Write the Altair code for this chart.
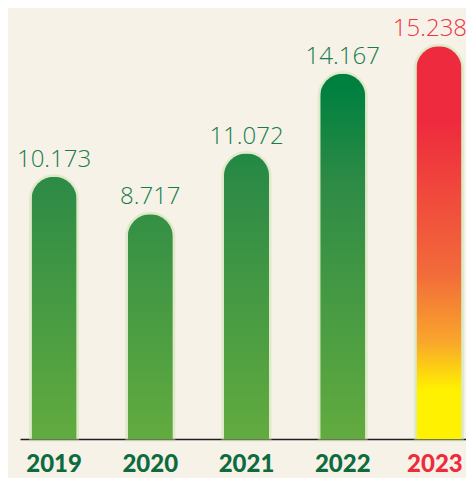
import altair as alt
import pandas as pd

years = ["2019", "2020", "2021", "2022", "2023"]
values = [10.173, 8.717, 11.072, 14.167, 15.238]
value_labels = ["10.173", "8.717", "11.072", "14.167", "15.238"]
highlight = [False, False, False, False, True]

# absolute gradient for green bars (value -> colour)
green_stop_values = [13.6, 10.0, 0.0]
green_stop_colors = ["#00803f", "#2d8b46", "#62ab3f"]
# gradient of the highlighted bar (relative offsets)
red_offsets = [0.0, 0.19, 0.58, 0.75, 0.875, 1.0]
red_colors = ["#ee2a3e", "#ee2a3e", "#f26b3a", "#f9a52c", "#fff100", "#fff100"]

GREEN_TEXT = "#167d4c"
RED_TEXT = "#ee3346"
GREEN_YEAR = "#0d6b3f"
RED_YEAR = "#ee2a3b"
BG = "#f7f2e8"

df = pd.DataFrame({"year": years, "value": values, "label": value_labels,
                   "hl": highlight})


def hex2rgb(h):
    h = h.lstrip("#")
    return [int(h[i:i + 2], 16) for i in (0, 2, 4)]


def mix(c1, c2, t):
    a, b = hex2rgb(c1), hex2rgb(c2)
    return "#%02x%02x%02x" % tuple(round(a[i] + (b[i] - a[i]) * t) for i in range(3))


def color_at(v):
    sv, sc = green_stop_values, green_stop_colors
    if v >= sv[0]:
        return sc[0]
    for i in range(len(sv) - 1):
        if sv[i] >= v >= sv[i + 1]:
            t = (sv[i] - v) / (sv[i] - sv[i + 1])
            return mix(sc[i], sc[i + 1], t)
    return sc[-1]


def green_gradient(v):
    stops = [alt.GradientStop(offset=0, color=color_at(v))]
    for a, c in zip(green_stop_values, green_stop_colors):
        if a < v:
            stops.append(alt.GradientStop(offset=(v - a) / v, color=c))
    return alt.LinearGradient(gradient="linear", x1=0, x2=0, y1=0, y2=1, stops=stops)


red_gradient = alt.LinearGradient(
    gradient="linear", x1=0, x2=0, y1=0, y2=1,
    stops=[alt.GradientStop(offset=o, color=c) for o, c in zip(red_offsets, red_colors)])

x_enc = alt.X(
    "year:N",
    scale=alt.Scale(domain=years, range=[0, 453], paddingInner=0.532, paddingOuter=0.12),
    axis=alt.Axis(
        title=None, ticks=False, grid=False,
        domainColor="#1f1f1f", domainWidth=1.5,
        labelAngle=0, labelFont="Lato", labelFontWeight=900, labelFontSize=24,
        labelPadding=13,
        labelColor={"condition": {"test": "datum.value == '2023'", "value": RED_YEAR},
                    "value": GREEN_YEAR},
        labelOffset={"condition": {"test": "datum.value == '2023'", "value": -4},
                     "value": 0},
    ),
)
y_enc = alt.Y("value:Q", scale=alt.Scale(domain=[0, 16.72], nice=False, zero=True),
              axis=None)

base = alt.Chart(df).encode(x=x_enc, y=y_enc)

R = 22.5
glow = base.mark_bar(
    color="#c9e3ad", stroke="#c4e0a6", strokeWidth=5, strokeOpacity=0.45, opacity=0.8,
    cornerRadiusTopLeft=R, cornerRadiusTopRight=R,
)

layers = [glow]
for yr, v, h in zip(years, values, highlight):
    grad = red_gradient if h else green_gradient(v)
    layers.append(
        base.transform_filter(alt.datum.year == yr).mark_bar(
            color=grad, cornerRadiusTopLeft=R, cornerRadiusTopRight=R,
        )
    )

text_green = base.transform_filter(~alt.datum.hl).mark_text(
    font="Open Sans", fontWeight=300, fontSize=24, baseline="alphabetic", dy=-10,
    color=GREEN_TEXT,
).encode(text="label:N")
text_red = base.transform_filter(alt.datum.hl).mark_text(
    font="Open Sans", fontWeight=300, fontSize=24, baseline="alphabetic", dy=-10,
    dx=-9, color=RED_TEXT,
).encode(text="label:N")
layers += [text_green, text_red]

chart = alt.layer(*layers).properties(
    width=446, height=431,
    autosize=alt.AutoSizeParams(type="none"),
    padding={"left": 12, "top": 0, "right": 0, "bottom": 39},
    background=BG,
).configure_view(stroke=None)

chart.save("out.html", embed_options={"renderer": "svg", "actions": False})
